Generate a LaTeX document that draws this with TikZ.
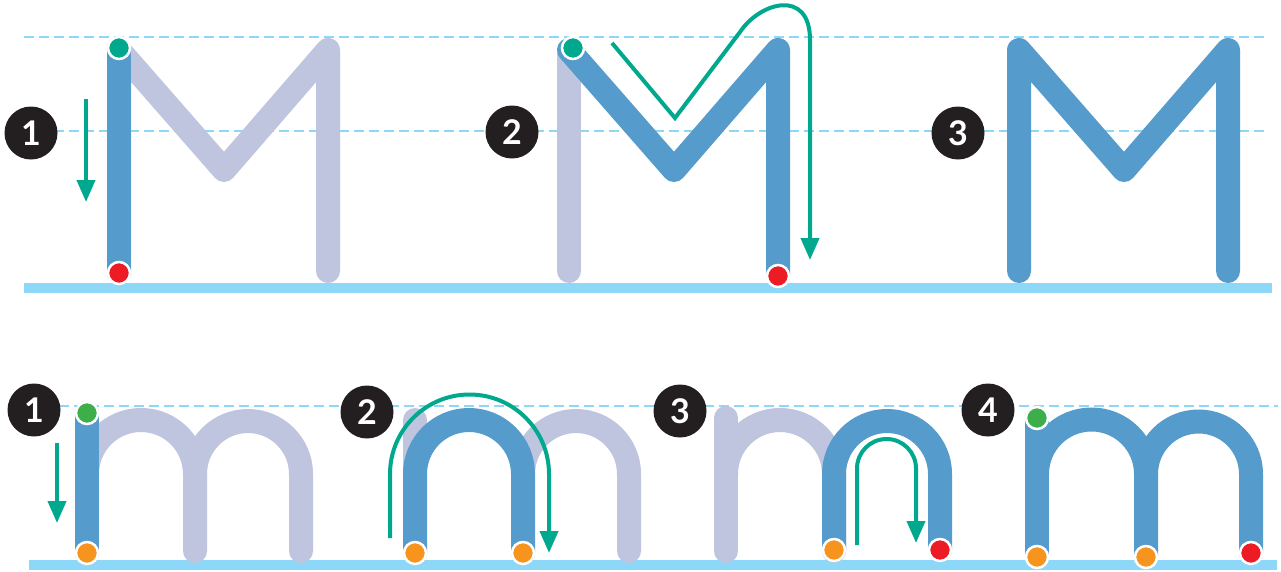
\documentclass[tikz,border=0pt]{standalone}
\usepackage{fontspec}
\setsansfont{Lato}
\usetikzlibrary{arrows.meta}
\definecolor{guideblue}{HTML}{8DD8F8}
\definecolor{mblue}{HTML}{559BCB}
\definecolor{mlight}{HTML}{BFC4DF}
\definecolor{mteal}{HTML}{00A88E}
\definecolor{mred}{HTML}{ED1C24}
\definecolor{morange}{HTML}{F7941D}
\definecolor{mgreen}{HTML}{3DAE49}
\definecolor{badgeblack}{HTML}{231F20}
\tikzset{
  guide/.style={draw=guideblue, line width=2.6pt, dash pattern=on 10pt off 5pt},
  baseln/.style={draw=guideblue, line width=10pt},
  stroke/.style={line width=24pt, line cap=round, line join=round},
  lightstroke/.style={stroke, draw=mlight},
  bluestroke/.style={stroke, draw=mblue},
  tealpath/.style={draw=mteal, line width=4pt, -{Triangle[length=22pt,width=18pt]}},
  dot/.style={circle, minimum size=22pt, inner sep=0pt, draw=white, line width=2.5pt},
  badge/.style={circle, fill=badgeblack, minimum size=53pt, inner sep=0pt, text=white,
    font=\sffamily\bfseries\fontsize{34}{34}\selectfont}
}
\begin{document}
\begin{tikzpicture}[x=1pt,y=-1pt]
\useasboundingbox[fill=white] (0,0) rectangle (1281,571);
% guide lines
\draw[guide] (24,37) -- (1267,37);
\draw[guide] (24,131) -- (1267,131);
\draw[baseln] (24,288) -- (1272,288);
\draw[guide] (29,406) -- (1278,406);
\draw[baseln] (29,565) -- (1277,565);

% ---------- capital M, step 1
\draw[lightstroke] (119,271) -- (119,50) -- (224,170) -- (328,50) -- (328,271);
\draw[bluestroke] (119,48) -- (119,273);
\node[dot, fill=mteal] (s1) at (119,48) {};
\node[dot, fill=mred] (e1) at (119,273) {};
\coordinate (a1s) at (86,99);
\coordinate (a1e) at (86,202);
\draw[tealpath] (a1s) -- (a1e);

% ---------- capital M, step 2
\draw[lightstroke] (569,55) -- (569,271);
\draw[bluestroke] (569,50) -- (674,170) -- (778,50) -- (778,275);
\node[dot, fill=mteal] (s2) at (573,48) {};
\node[dot, fill=mred] (e2) at (778,276) {};
\coordinate (a2s) at (612,43);
\coordinate (a2v) at (675,118);
\coordinate (a2u) at (740,32);
\coordinate (a2r) at (810,40);
\coordinate (a2e) at (810,260);
\draw[tealpath] (a2s) -- (a2v) -- (a2u) .. controls (760,2) and (810,-12) .. (a2r) -- (a2e);

% ---------- capital M, step 3
\draw[bluestroke] (1019,271) -- (1019,50) -- (1124,170) -- (1228,50) -- (1228,271);

% ---------- small m, step 1 (x0 = 87)
\draw[lightstroke] (87,474) arc[start angle=180, end angle=360, radius=54] -- (195,551);
\draw[lightstroke] (195,474) arc[start angle=180, end angle=360, radius=53] -- (301,551);
\draw[bluestroke] (87,413) -- (87,553);
\node[dot, fill=mgreen] (s4) at (87,413) {};
\node[dot, fill=morange] (e4) at (87,553) {};
\coordinate (a4s) at (57,443);
\coordinate (a4e) at (57,523);
\draw[tealpath] (a4s) -- (a4e);

% ---------- small m, step 2 (x0 = 415)
\draw[lightstroke] (415,420) -- (415,551);
\draw[lightstroke] (523,474) arc[start angle=180, end angle=360, radius=53] -- (629,551);
\draw[bluestroke] (415,553) -- (415,474) arc[start angle=180, end angle=360, radius=54] -- (523,553);
\node[dot, fill=morange] (e5a) at (415,553) {};
\node[dot, fill=morange] (e5b) at (523,553) {};
\coordinate (a5s) at (390,538);
\coordinate (a5e) at (549,553);
\draw[tealpath] (a5s) -- (390,474) arc[start angle=180, end angle=360, radius=79.5] -- (a5e);

% ---------- small m, step 3 (x0 = 726)
\draw[lightstroke] (726,418) -- (726,551);
\draw[lightstroke] (726,474) arc[start angle=180, end angle=360, radius=54] -- (834,551);
\draw[bluestroke] (834,550) -- (834,474) arc[start angle=180, end angle=360, radius=53] -- (940,550);
\node[dot, fill=morange] (e6a) at (834,550) {};
\node[dot, fill=mred] (e6b) at (940,550) {};
\coordinate (a6s) at (857,545);
\coordinate (a6e) at (916,543);
\draw[tealpath] (a6s) -- (857,468.5) arc[start angle=180, end angle=360, radius=29.5] -- (a6e);

% ---------- small m, step 4 (x0 = 1037)
\draw[bluestroke] (1037,418) -- (1037,556);
\draw[bluestroke] (1037,474) arc[start angle=180, end angle=360, radius=54.5] -- (1146,556);
\draw[bluestroke] (1146,474) arc[start angle=180, end angle=360, radius=52.5] -- (1251,553);
\node[dot, fill=mgreen] (s7) at (1037,418) {};
\node[dot, fill=morange] (e7a) at (1037,557) {};
\node[dot, fill=morange] (e7b) at (1146,557) {};
\node[dot, fill=mred] (e7c) at (1251,553) {};

% ---------- badges
\node[badge] (b1) at (31,133) {1};
\node[badge] (b2) at (512,132) {2};
\node[badge] (b3) at (958,133) {3};
\node[badge] (c1) at (34,410) {1};
\node[badge] (c2) at (367,412) {2};
\node[badge] (c3) at (680,411) {3};
\node[badge] (c4) at (988,410) {4};
\end{tikzpicture}
\end{document}
